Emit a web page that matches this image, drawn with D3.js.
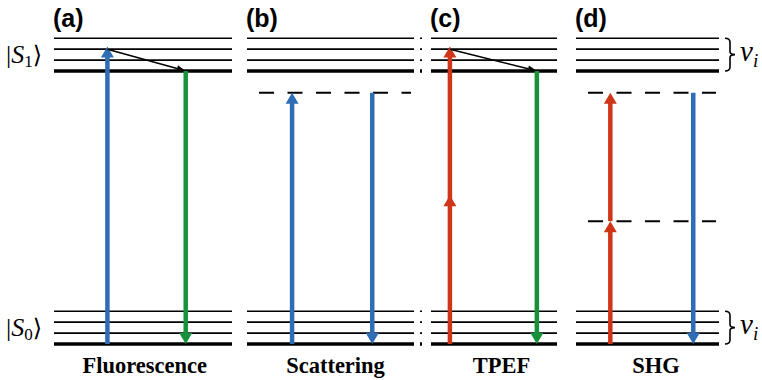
<!DOCTYPE html>
<html>
<head>
<meta charset="utf-8">
<script src="https://cdn.jsdelivr.net/npm/d3@7"></script>
<style>
  body { margin: 0; background: #fff; }
  svg { display: block; }
</style>
</head>
<body>
<div id="chart-area"></div>
<script>
// panels and their labels
var panelTags = ['(a)', '(b)', '(c)', '(d)'];
var processNames = ['Fluorescence', 'Scattering', 'TPEF', 'SHG'];

// energy levels, in units of the S0 -> S1 gap
var s0Levels = [0, 0.04, 0.08, 0.12];
var s1Levels = [1.0, 1.04, 1.08, 1.12];

// virtual (dashed) levels per panel
var virtualPanel = [1, 3, 3];
var virtualEnergy = [0.92, 0.45, 0.92];

// radiative transitions: panel, position across the panel, start and end energy, colour
var arrowPanel = [0, 0, 1, 1, 2, 2, 3, 3, 3];
var arrowPos   = [0.30, 0.74, 0.27, 0.75, 0.15, 0.84, 0.24, 0.24, 0.82];
var arrowFrom  = [0, 1.0, 0, 0.92, 0, 1.0, 0, 0.45, 0.92];
var arrowTo    = [1.09, 0, 0.92, 0, 1.09, 0, 0.45, 0.92, 0];
var arrowKind  = ['blue', 'green', 'blue', 'blue', 'red', 'green', 'red', 'red', 'blue'];
var arrowMid   = [false, false, false, false, true, false, false, false, false];

// vibrational relaxation (thin black diagonal)
var relaxPanel = [0, 2];
var relaxPosFrom = [0.30, 0.15];
var relaxPosTo = [0.74, 0.84];
var relaxFrom = [1.08, 1.08];
var relaxTo = [1.0, 1.0];

var colors = { blue: '#2f6db5', green: '#17923a', red: '#cf3517' };

var width = 762, height = 380;
var panelLeft = [54, 247, 431, 576];
var panelRight = [232, 414, 557, 719];
var labelShift = [0.51, 0.53, 0.56, 0.56];

var svg = d3.select('#chart-area').append('svg')
    .attr('width', width).attr('height', height);

var y = d3.scaleLinear().domain([0, 1]).range([344, 71]);

var xs = panelLeft.map(function (l, i) {
  return d3.scaleLinear().domain([0, 1]).range([l, panelRight[i]]);
});

var allLevels = s0Levels.concat(s1Levels);

// level lines
panelTags.forEach(function (tag, i) {
  var g = svg.append('g').attr('class', 'panel');
  g.selectAll('line.level')
    .data(allLevels)
    .enter().append('line')
    .attr('class', 'level')
    .attr('x1', xs[i](0)).attr('x2', xs[i](1))
    .attr('y1', function (d) { return y(d); })
    .attr('y2', function (d) { return y(d); })
    .attr('stroke', '#000')
    .attr('stroke-width', function (d) { return (d === 0 || d === 1) ? 3.6 : 1.7; });

  g.append('text')
    .attr('x', xs[i](0) - 1).attr('y', 27)
    .attr('font-family', 'Liberation Sans, Arial, sans-serif')
    .attr('font-weight', 'bold')
    .attr('font-size', '25px')
    .text(tag);

  g.append('text')
    .attr('x', xs[i](labelShift[i])).attr('y', 373)
    .attr('text-anchor', 'middle')
    .attr('font-family', 'Liberation Serif, Times New Roman, serif')
    .attr('font-weight', 'bold')
    .attr('font-size', '22.5px')
    .text(processNames[i]);
});

// stray little marks between (b) and (c)
svg.selectAll('line.stray')
  .data(allLevels)
  .enter().append('line')
  .attr('class', 'stray')
  .attr('x1', 420).attr('x2', 422)
  .attr('y1', function (d) { return y(d); })
  .attr('y2', function (d) { return y(d); })
  .attr('stroke', '#000')
  .attr('stroke-width', function (d) { return (d === 0 || d === 1) ? 3.6 : 1.7; });

// virtual levels
svg.selectAll('line.virtual')
  .data(virtualEnergy)
  .enter().append('line')
  .attr('class', 'virtual')
  .attr('x1', function (d, i) { return xs[virtualPanel[i]](0) + 12; })
  .attr('x2', function (d, i) { return xs[virtualPanel[i]](1) - 3; })
  .attr('y1', function (d) { return y(d); })
  .attr('y2', function (d) { return y(d); })
  .attr('stroke', '#000')
  .attr('stroke-width', 2)
  .attr('stroke-dasharray', '15,13.5');

// arrows
function arrowHead(g, x, tipY, dir, w, len, color) {
  // dir = -1 pointing up, +1 pointing down
  var baseY = tipY - dir * len;
  g.append('path')
    .attr('d', 'M' + (x - w / 2) + ',' + baseY + 'L' + x + ',' + tipY + 'L' + (x + w / 2) + ',' + baseY + 'Z')
    .attr('fill', color);
}

var arrows = arrowPanel.map(function (p, i) {
  return { p: p, x: xs[p](arrowPos[i]), y1: y(arrowFrom[i]), y2: y(arrowTo[i]),
           color: colors[arrowKind[i]], mid: arrowMid[i] };
});

var ag = svg.append('g').attr('class', 'arrows');
arrows.forEach(function (a) {
  var dir = a.y2 < a.y1 ? -1 : 1;
  var headLen = 11, headW = 13;
  ag.append('line')
    .attr('x1', a.x).attr('x2', a.x)
    .attr('y1', a.y1).attr('y2', a.y2 - dir * (headLen - 1))
    .attr('stroke', a.color)
    .attr('stroke-width', 4.5);
  arrowHead(ag, a.x, a.y2, dir, headW, headLen, a.color);
  if (a.mid) {
    arrowHead(ag, a.x, (a.y1 + a.y2) / 2, dir, headW, headLen, a.color);
  }
});

// relaxation arrows
relaxPanel.forEach(function (p, i) {
  var x1 = xs[p](relaxPosFrom[i]), x2 = xs[p](relaxPosTo[i]);
  var y1 = y(relaxFrom[i]), y2 = y(relaxTo[i]);
  var ang = Math.atan2(y2 - y1, x2 - x1);
  var len = 9, w = 3.5;
  var bx = x2 - len * Math.cos(ang), by = y2 - len * Math.sin(ang);
  ag.append('line')
    .attr('x1', x1).attr('y1', y1).attr('x2', bx).attr('y2', by)
    .attr('stroke', '#000').attr('stroke-width', 1.6);
  ag.append('path')
    .attr('d', 'M' + (bx + w * Math.sin(ang)) + ',' + (by - w * Math.cos(ang)) +
               'L' + x2 + ',' + y2 +
               'L' + (bx - w * Math.sin(ang)) + ',' + (by + w * Math.cos(ang)) + 'Z')
    .attr('fill', '#000');
});

// state labels |S1>, |S0>
var stateLabels = [{ sub: '1', e: (s1Levels[0] + s1Levels[3]) / 2 },
                   { sub: '0', e: (s0Levels[0] + s0Levels[3]) / 2 }];
stateLabels.forEach(function (s) {
  var t = svg.append('text')
    .attr('x', 6).attr('y', y(s.e) + 8)
    .attr('font-family', 'Liberation Serif, DejaVu Serif, serif')
    .attr('font-size', '26px');
  t.append('tspan').text('|');
  t.append('tspan').attr('font-style', 'italic').text('S');
  t.append('tspan').attr('font-size', '17px').attr('dy', 4).text(s.sub);
  t.append('tspan').attr('dy', -4).attr('font-family', 'DejaVu Serif, serif').attr('font-size', '24px').text('\u27E9');
});

// braces with nu_i on the right of panel (d)
[s1Levels, s0Levels].forEach(function (lv) {
  var top = y(lv[3]), bot = y(lv[0]), mid = (top + bot) / 2;
  var x0 = xs[3](1) + 6, x1 = x0 + 5, tip = x1 + 5;
  var path = d3.path();
  path.moveTo(x0, top);
  path.quadraticCurveTo(x1, top, x1, top + 4);
  path.lineTo(x1, mid - 3);
  path.quadraticCurveTo(x1, mid, tip, mid);
  path.quadraticCurveTo(x1, mid, x1, mid + 3);
  path.lineTo(x1, bot - 4);
  path.quadraticCurveTo(x1, bot, x0, bot);
  svg.append('path').attr('d', path.toString())
    .attr('fill', 'none').attr('stroke', '#000').attr('stroke-width', 1.6);
  var t = svg.append('text')
    .attr('x', tip + 5).attr('y', mid + 6)
    .attr('font-family', 'Liberation Serif, DejaVu Serif, serif')
    .attr('font-style', 'italic')
    .attr('font-size', '29px');
  t.append('tspan').text('\u03BD');
  t.append('tspan').attr('font-size', '19px').attr('dy', 6).text('i');
});
</script>
</body>
</html>
